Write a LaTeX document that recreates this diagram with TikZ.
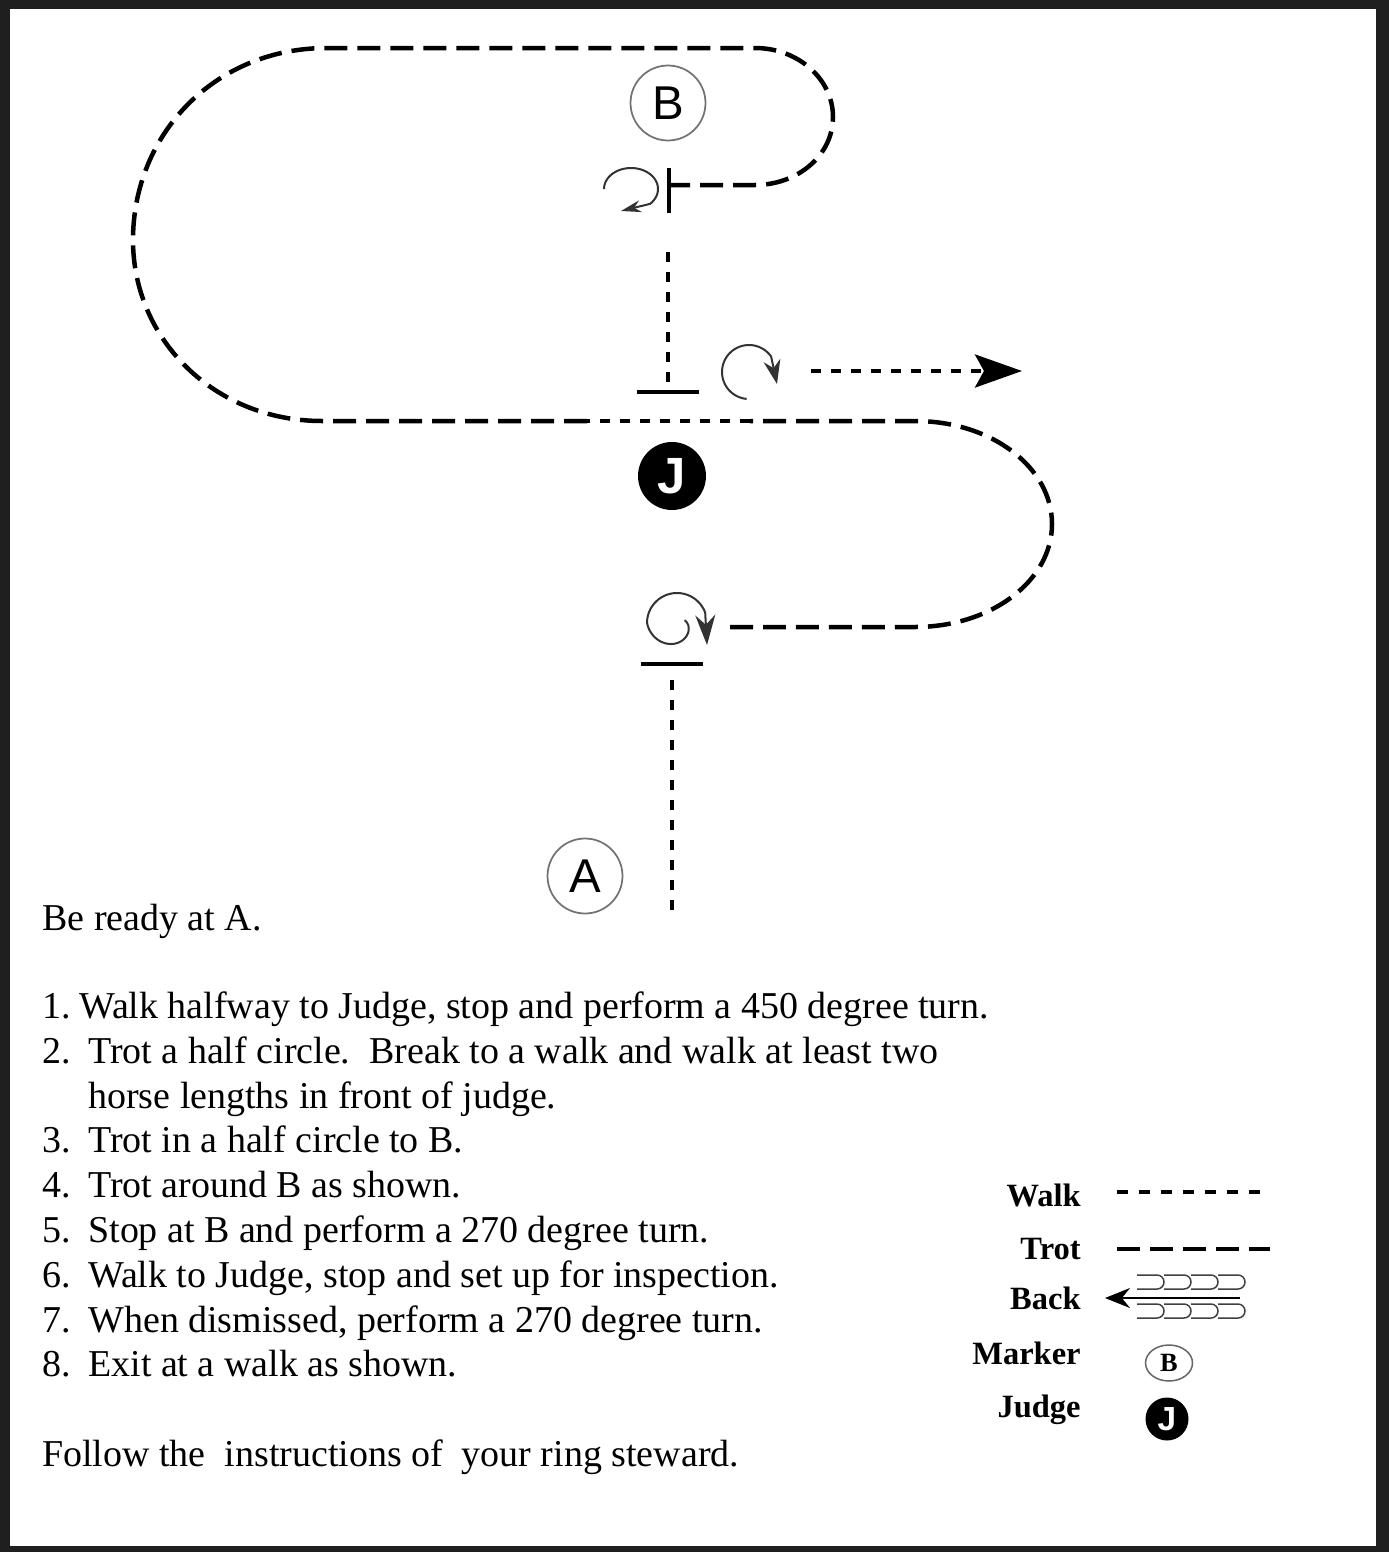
\documentclass[tikz,border=0pt]{standalone}
\usepackage{fontspec}
\setmainfont{Liberation Serif}
\newfontfamily\markerfont{Liberation Sans}
\usetikzlibrary{arrows.meta,shapes.geometric}
\tikzset{
	trot/.style={line width=0.09cm, dash pattern=on 0.46cm off 0.2cm},
	walk/.style={line width=0.085cm, dash pattern=on 0.2cm off 0.2cm},
	stopbar/.style={line width=0.085cm},
	turnline/.style={line width=0.04cm, color=black!80},
	marker/.style={circle, draw=black!55, line width=0.035cm, minimum size=1.5cm, inner sep=0pt, font=\markerfont\fontsize{27}{27}\selectfont},
	judge/.style={circle, fill=black, text=white, minimum size=1.36cm, inner sep=0pt, font=\markerfont\bfseries\fontsize{29}{29}\selectfont},
	steps/.style={anchor=base west, inner sep=0pt, font=\fontsize{21.6}{25}\selectfont},
	legend/.style={anchor=base east, inner sep=0pt, font=\bfseries\fontsize{18.5}{22}\selectfont},
	hookline/.style={line width=0.03cm, color=black!75}
}
\def\backhook(#1,#2){\draw[hookline] (#1,#2) -- ++(20,0) arc (-90:90:7) -- ++(-20,0);}

\begin{document}
\begin{tikzpicture}[x=0.02cm, y=-0.02cm]
		%%%%% START %%%%%
		\useasboundingbox (0,0) rectangle (1389,1552);
		\fill[black!88] (0,0) rectangle (1389,1552);
		\fill[white] (10,9) rectangle (1376,1546);
		
		\node[marker] (B) at (668,103) {B};
		\node[marker] (A) at (585,876) {A};
		\node[judge] (J) at (672,476) {J};
		
		% start at A, walk up and 450 turn
		\draw[walk] (672,910) -- (672,677);
		\draw[stopbar] (641,664) -- (703,664);
		\draw[turnline, -{Stealth[length=0.6cm,width=0.4cm]}] plot[domain=-20:340, samples=80, smooth] ({677+min(30,8+(\x+20)*0.11)*cos(\x)},{623+min(30,8+(\x+20)*0.11)*sin(\x)}) -- (707,645);
		
		% half circle, walk past judge, half circle to B
		\draw[trot] (730,627) -- (915,627) .. controls (991,627) and (1052,581) .. (1052,524) .. controls (1052,467) and (991,421) .. (915,421) -- (750,421);
		\draw[walk] (750,421) -- (587,421);
		\draw[trot] (587,421) -- (322,421) .. controls (215,421) and (133,340) .. (133,240) .. controls (133,134) and (215,48) .. (327,48) -- (755,48) .. controls (798,48) and (833,79) .. (833,117) .. controls (833,155) and (798,185) .. (755,185) -- (669,185);
		
		% stop at B, 270 turn
		\draw[stopbar] (669,168) -- (669,213);
		\draw[turnline, -{Stealth[length=0.4cm,width=0.24cm]}] plot[domain=180:405, samples=40, smooth] ({631+27*cos(\x)},{189+21*sin(\x)}) -- (621,211);
		
		% walk to judge, 270 turn, exit
		\draw[walk] (668,252) -- (668,386);
		\draw[stopbar] (637,392) -- (699,392);
		\draw[turnline, -{Stealth[length=0.48cm,width=0.34cm]}] plot[domain=95:325, samples=40, smooth] ({749+27*cos(\x)},{372+27*sin(\x)}) -- (777,384);
		\draw[walk, -{Stealth[length=0.94cm,width=0.66cm,inset=0.18cm]}] (811,371) -- (1022,371);
		
		% instructions
		\node[steps] (ready) at (42,930) {Be ready at A.};
		\node[steps] (n1) at (42,1018) {1.};
		\node[steps] (t1) at (79,1018) {Walk halfway to Judge, stop and perform a 450 degree turn.};
		\node[steps] (n2) at (42,1063) {2.};
		\node[steps] (t2) at (88,1063) {Trot a half circle.\ \ Break to a walk and walk at least two};
		\node[steps] (t2b) at (88,1108) {horse lengths in front of judge.};
		\node[steps] (n3) at (42,1152) {3.};
		\node[steps] (t3) at (88,1152) {Trot in a half circle to B.};
		\node[steps] (n4) at (42,1197) {4.};
		\node[steps] (t4) at (88,1197) {Trot around B as shown.};
		\node[steps] (n5) at (42,1242) {5.};
		\node[steps] (t5) at (88,1242) {Stop at B and perform a 270 degree turn.};
		\node[steps] (n6) at (42,1287) {6.};
		\node[steps] (t6) at (88,1287) {Walk to Judge, stop and set up for inspection.};
		\node[steps] (n7) at (42,1332) {7.};
		\node[steps] (t7) at (88,1332) {When dismissed, perform a 270 degree turn.};
		\node[steps] (n8) at (42,1376) {8.};
		\node[steps] (t8) at (88,1376) {Exit at a walk as shown.};
		\node[steps] (follow) at (42,1466) {Follow the\ \ instructions of\ \ your ring steward.};
		
		% legend
		\node[legend] (lwalk) at (1081,1206) {Walk};
		\node[legend] (ltrot) at (1081,1259) {Trot};
		\node[legend] (lback) at (1081,1309) {Back};
		\node[legend] (lmarker) at (1081,1364) {Marker};
		\node[legend] (ljudge) at (1081,1417) {Judge};
		
		\draw[walk, dash pattern=on 0.22cm off 0.22cm] (1117,1192) -- (1270,1192);
		\draw[trot] (1117,1249) -- (1270,1249);
		\draw[line width=0.04cm, -{Stealth[length=0.5cm,width=0.4cm]}] (1240,1298) -- (1105,1298);
		\backhook(1137,1275) \backhook(1164,1275) \backhook(1191,1275) \backhook(1218,1275)
		\backhook(1137,1304) \backhook(1164,1304) \backhook(1191,1304) \backhook(1218,1304)
		\node[ellipse, draw=black!60, line width=0.03cm, minimum width=0.94cm, minimum height=0.72cm, inner sep=0pt, font=\bfseries\fontsize{15}{15}\selectfont] (mB) at (1169,1363) {B};
		\node[circle, fill=black, text=white, minimum size=0.86cm, inner sep=0pt, font=\markerfont\bfseries\fontsize{19}{19}\selectfont] (mJ) at (1167,1419) {J};
		
		%%%%% END %%%%%
\end{tikzpicture}
\end{document}
